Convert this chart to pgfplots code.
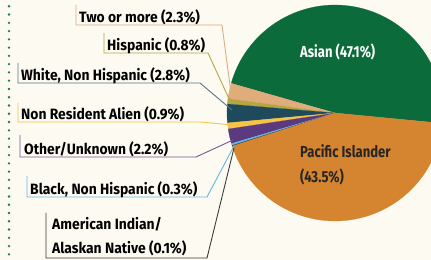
\documentclass[border=0pt]{standalone}
\usepackage{pgfplots}
\pgfplotsset{compat=1.18}
\usepackage{fontspec}
\setmainfont{Fira Sans}[FakeStretch=0.82]
\newfontfamily\lblfont{Fira Sans}[FakeStretch=0.93]
\definecolor{bgc}{HTML}{FDFAF2}
\definecolor{dotg}{HTML}{1E7A45}
\definecolor{cAsian}{HTML}{0B6B3A}
\definecolor{cPac}{HTML}{D5842F}
\definecolor{cTwo}{HTML}{E0AC7C}
\definecolor{cHisp}{HTML}{B5A640}
\definecolor{cWhite}{HTML}{1F4A5C}
\definecolor{cNRA}{HTML}{F7C344}
\definecolor{cOther}{HTML}{5C3A80}
\definecolor{cBlack}{HTML}{62B6E4}
\definecolor{cAm}{HTML}{3A3A3A}
\newcommand\lbl{\lblfont\fontsize{15}{17}\selectfont\bfseries}
\newcommand\plbl{\fontsize{16}{18}\selectfont\bfseries}
\begin{document}
\begin{tikzpicture}
\begin{axis}[
  width=431bp, height=260bp, scale only axis,
  xmin=0, xmax=431, ymin=0, ymax=260,
  hide axis, clip=true,
  axis background/.style={fill=bgc},
]
% dotted rule
\addplot[draw=dotg, line width=2.6pt, line cap=round, dash pattern=on 0pt off 8.3pt] coordinates {(9,262) (9,-2)};
% pie wedges: start -5.5 deg, 3.6 deg per percent
\addplot[fill=cAsian, draw=cAsian, line width=0.2pt, domain=-5.5:164.06, samples=80] ({335+108*cos(x)},{147+108*sin(x)}) -- (axis cs:335,147) -- cycle;
\addplot[fill=cTwo, draw=cTwo, line width=0.2pt, domain=164.06:172.34, samples=8] ({335+108*cos(x)},{147+108*sin(x)}) -- (axis cs:335,147) -- cycle;
\addplot[fill=cHisp, draw=cHisp, line width=0.2pt, domain=172.34:175.22, samples=4] ({335+108*cos(x)},{147+108*sin(x)}) -- (axis cs:335,147) -- cycle;
\addplot[fill=cWhite, draw=cWhite, line width=0.2pt, domain=175.22:185.30, samples=8] ({335+108*cos(x)},{147+108*sin(x)}) -- (axis cs:335,147) -- cycle;
\addplot[fill=cNRA, draw=cNRA, line width=0.2pt, domain=185.30:188.54, samples=4] ({335+108*cos(x)},{147+108*sin(x)}) -- (axis cs:335,147) -- cycle;
\addplot[fill=cOther, draw=cOther, line width=0.2pt, domain=188.54:196.46, samples=8] ({335+108*cos(x)},{147+108*sin(x)}) -- (axis cs:335,147) -- cycle;
\addplot[fill=cBlack, draw=cBlack, line width=0.2pt, domain=196.46:197.54, samples=3] ({335+108*cos(x)},{147+108*sin(x)}) -- (axis cs:335,147) -- cycle;
\addplot[fill=cAm, draw=cAm, line width=0.2pt, domain=197.54:197.90, samples=3] ({335+108*cos(x)},{147+108*sin(x)}) -- (axis cs:335,147) -- cycle;
\addplot[fill=cPac, draw=cPac, line width=0.2pt, domain=197.90:354.5, samples=80] ({335+108*cos(x)},{147+108*sin(x)}) -- (axis cs:335,147) -- cycle;
% leader lines (y = 260 - image y)
\addplot[draw=cTwo, line width=0.9pt] coordinates {(76,255) (76,235) (222,235) (231,167)};
\addplot[draw=cHisp, line width=0.9pt] coordinates {(104,227) (104,207) (208,207) (230,159)};
\addplot[draw=cWhite!75!white, line width=0.9pt] coordinates {(18,197) (18,177) (200,177) (232,150)};
\addplot[draw=cNRA, line width=0.9pt] coordinates {(18,157) (18,138) (200,138) (233,135)};
\addplot[draw=cOther!85!white, line width=0.9pt] coordinates {(20,125) (20,103) (196,103) (233,120)};
\addplot[draw=cBlack, line width=0.9pt] coordinates {(27,84) (27,63) (207,63) (234,114)};
\addplot[draw=cAm, line width=0.9pt] coordinates {(46,47) (46,2) (207,2) (234,112)};
% labels
\node[anchor=base west, inner sep=0pt] at (axis cs:79,238) {\lbl Two or more (2.3\%)};
\node[anchor=base west, inner sep=0pt] at (axis cs:107,210) {\lbl Hispanic (0.8\%)};
\node[anchor=base west, inner sep=0pt] at (axis cs:21,180) {\lbl White, Non Hispanic (2.8\%)};
\node[anchor=base west, inner sep=0pt] at (axis cs:21,141) {\lbl Non Resident Alien (0.9\%)};
\node[anchor=base west, inner sep=0pt] at (axis cs:24,106) {\lbl Other/Unknown (2.2\%)};
\node[anchor=base west, inner sep=0pt] at (axis cs:30,66) {\lbl Black, Non Hispanic (0.3\%)};
\node[anchor=base west, inner sep=0pt] at (axis cs:52,31) {\lbl American Indian/};
\node[anchor=base west, inner sep=0pt] at (axis cs:52,7) {\lbl Alaskan Native (0.1\%)};
\node[anchor=base west, inner sep=0pt, text=white] at (axis cs:300,203) {\plbl Asian (47.1\%)};
\node[anchor=base west, inner sep=0pt, text=black!85] at (axis cs:300,103) {\plbl Pacific Islander};
\node[anchor=base west, inner sep=0pt, text=black!85] at (axis cs:300,78) {\plbl (43.5\%)};
\end{axis}
\pgfresetboundingbox
\useasboundingbox (current axis.south west) rectangle (current axis.north east);
\end{tikzpicture}
\end{document}
